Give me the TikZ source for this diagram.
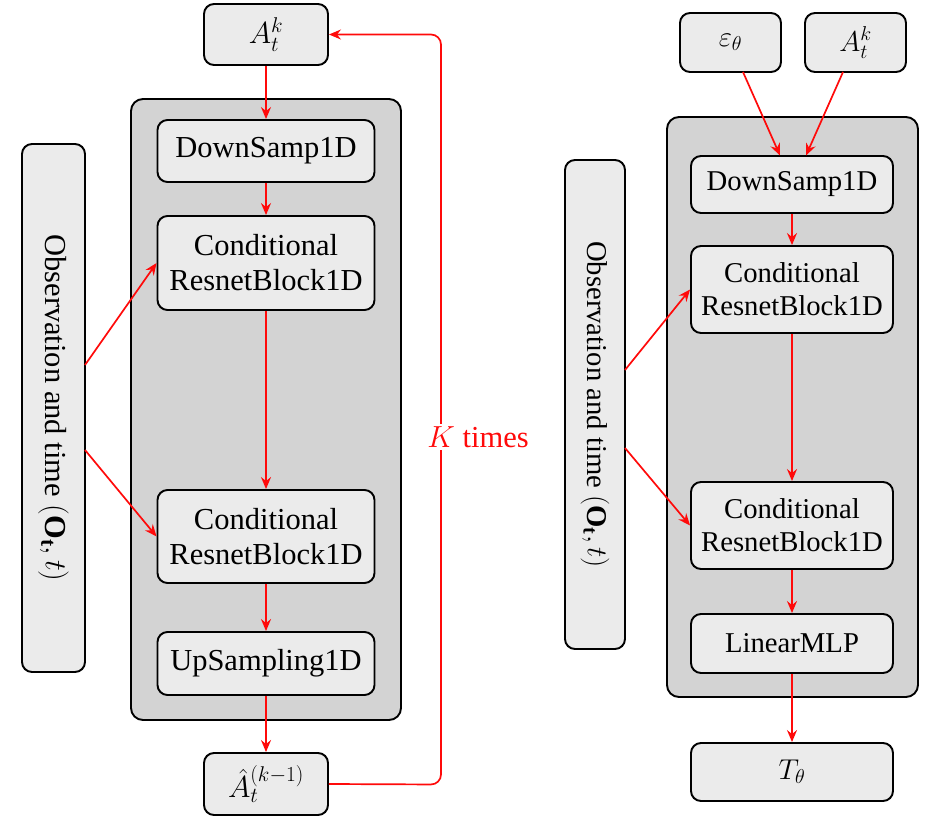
\documentclass[tikz,border=0pt]{standalone}
\usepackage{fix-cm}
\usepackage{fontspec}
\setmainfont{Liberation Serif}
\usetikzlibrary{arrows.meta}
\definecolor{boxgray}{HTML}{EBEBEB}
\definecolor{contgray}{HTML}{D3D3D3}
\definecolor{arrred}{HTML}{FF0A0A}
\begin{document}
\begin{tikzpicture}[x=1pt,y=-1pt,
  box/.style={draw=black, line width=1.9pt, rounded corners=10pt, fill=boxgray, align=center, inner sep=0pt},
  cont/.style={draw=black, line width=1.9pt, rounded corners=12pt, fill=contgray, inner sep=0pt},
  arr/.style={draw=arrred, line width=1.7pt, -{Stealth[length=12pt,width=10pt,inset=4pt]}},
  lf/.style={font=\fontsize{30.5}{35}\selectfont},
  rf/.style={font=\fontsize{28.7}{33}\selectfont},
]
\useasboundingbox (0,0) rectangle (927,819);

% ---------- left ----------
\node[cont, minimum width=270pt, minimum height=621pt] (lc) at (266,409.5) {};
\node[box, lf, minimum width=124pt, minimum height=61pt] (lA) at (266,34.5) {$A_t^k$};
\node[box, lf, minimum width=217pt, minimum height=62pt] (ld) at (266,151) {DownSamp1D};
\node[box, lf, minimum width=217pt, minimum height=94pt] (lc1) at (266,263) {Conditional\\ResnetBlock1D};
\node[box, lf, minimum width=217pt, minimum height=93pt] (lc2) at (266,536.5) {Conditional\\ResnetBlock1D};
\node[box, lf, minimum width=217pt, minimum height=63pt] (lu) at (266,663.5) {UpSampling1D};
\node[box, lf, minimum width=124pt, minimum height=62pt] (lh) at (266,784) {$\hat{A}_t^{(k-1)}$};
\node[box, lf, minimum width=528pt, minimum height=63pt, rotate=-90] (lo) at (53.5,408) {Observation and time $(\mathbf{O_t},t)$};

\draw[arr] (lA) -- (ld);
\draw[arr] (ld) -- (lc1);
\draw[arr] (lc1) -- (lc2);
\draw[arr] (lc2) -- (lu);
\draw[arr] (lu) -- (lh);
\coordinate (lo1) at (85,365);
\coordinate (lo2) at (85,450);
\draw[arr] (lo1) -- (lc1.west);
\draw[arr] (lo2) -- (lc2.west);
\coordinate (lp1) at (441,784.5);
\coordinate (lp2) at (441,34.5);
\draw[arr, rounded corners=10pt] (lh.east) -- (lp1) -- (lp2) -- (lA.east);
\node[lf, text=arrred, fill=white, inner sep=2pt] (kt) at (478,437) {$K$ times};

% ---------- right ----------
\node[cont, minimum width=251pt, minimum height=580pt] (rc) at (792.5,407) {};
\node[box, rf, minimum width=101pt, minimum height=59pt] (re) at (730.5,42.5) {$\varepsilon_\theta$};
\node[box, rf, minimum width=101pt, minimum height=59pt] (rA) at (855.5,42.5) {$A_t^k$};
\node[box, rf, minimum width=202pt, minimum height=57pt] (rd) at (792,184.5) {DownSamp1D};
\node[box, rf, minimum width=202pt, minimum height=87pt] (rc1) at (792,289.5) {Conditional\\ResnetBlock1D};
\node[box, rf, minimum width=202pt, minimum height=87pt] (rc2) at (792,525.5) {Conditional\\ResnetBlock1D};
\node[box, rf, minimum width=202pt, minimum height=59pt] (rl) at (792,643.5) {LinearMLP};
\node[box, rf, minimum width=202pt, minimum height=58pt] (rt) at (792,772) {$T_\theta$};
\node[box, rf, minimum width=489pt, minimum height=60pt, rotate=-90] (ro) at (595,404.5) {Observation and time $(\mathbf{O_t},t)$};

\coordinate (rdi1) at (780,155.5);
\coordinate (rdi2) at (806,155.5);
\coordinate (reo) at (743,72);
\coordinate (rAo) at (843,72);
\draw[arr] (reo) -- (rdi1);
\draw[arr] (rAo) -- (rdi2);
\draw[arr] (rd) -- (rc1);
\draw[arr] (rc1) -- (rc2);
\draw[arr] (rc2) -- (rl);
\draw[arr] (rl) -- (rt);
\coordinate (ro1) at (625,370);
\coordinate (ro2) at (625,448);
\draw[arr] (ro1) -- (rc1.west);
\draw[arr] (ro2) -- (rc2.west);
\end{tikzpicture}
\end{document}
